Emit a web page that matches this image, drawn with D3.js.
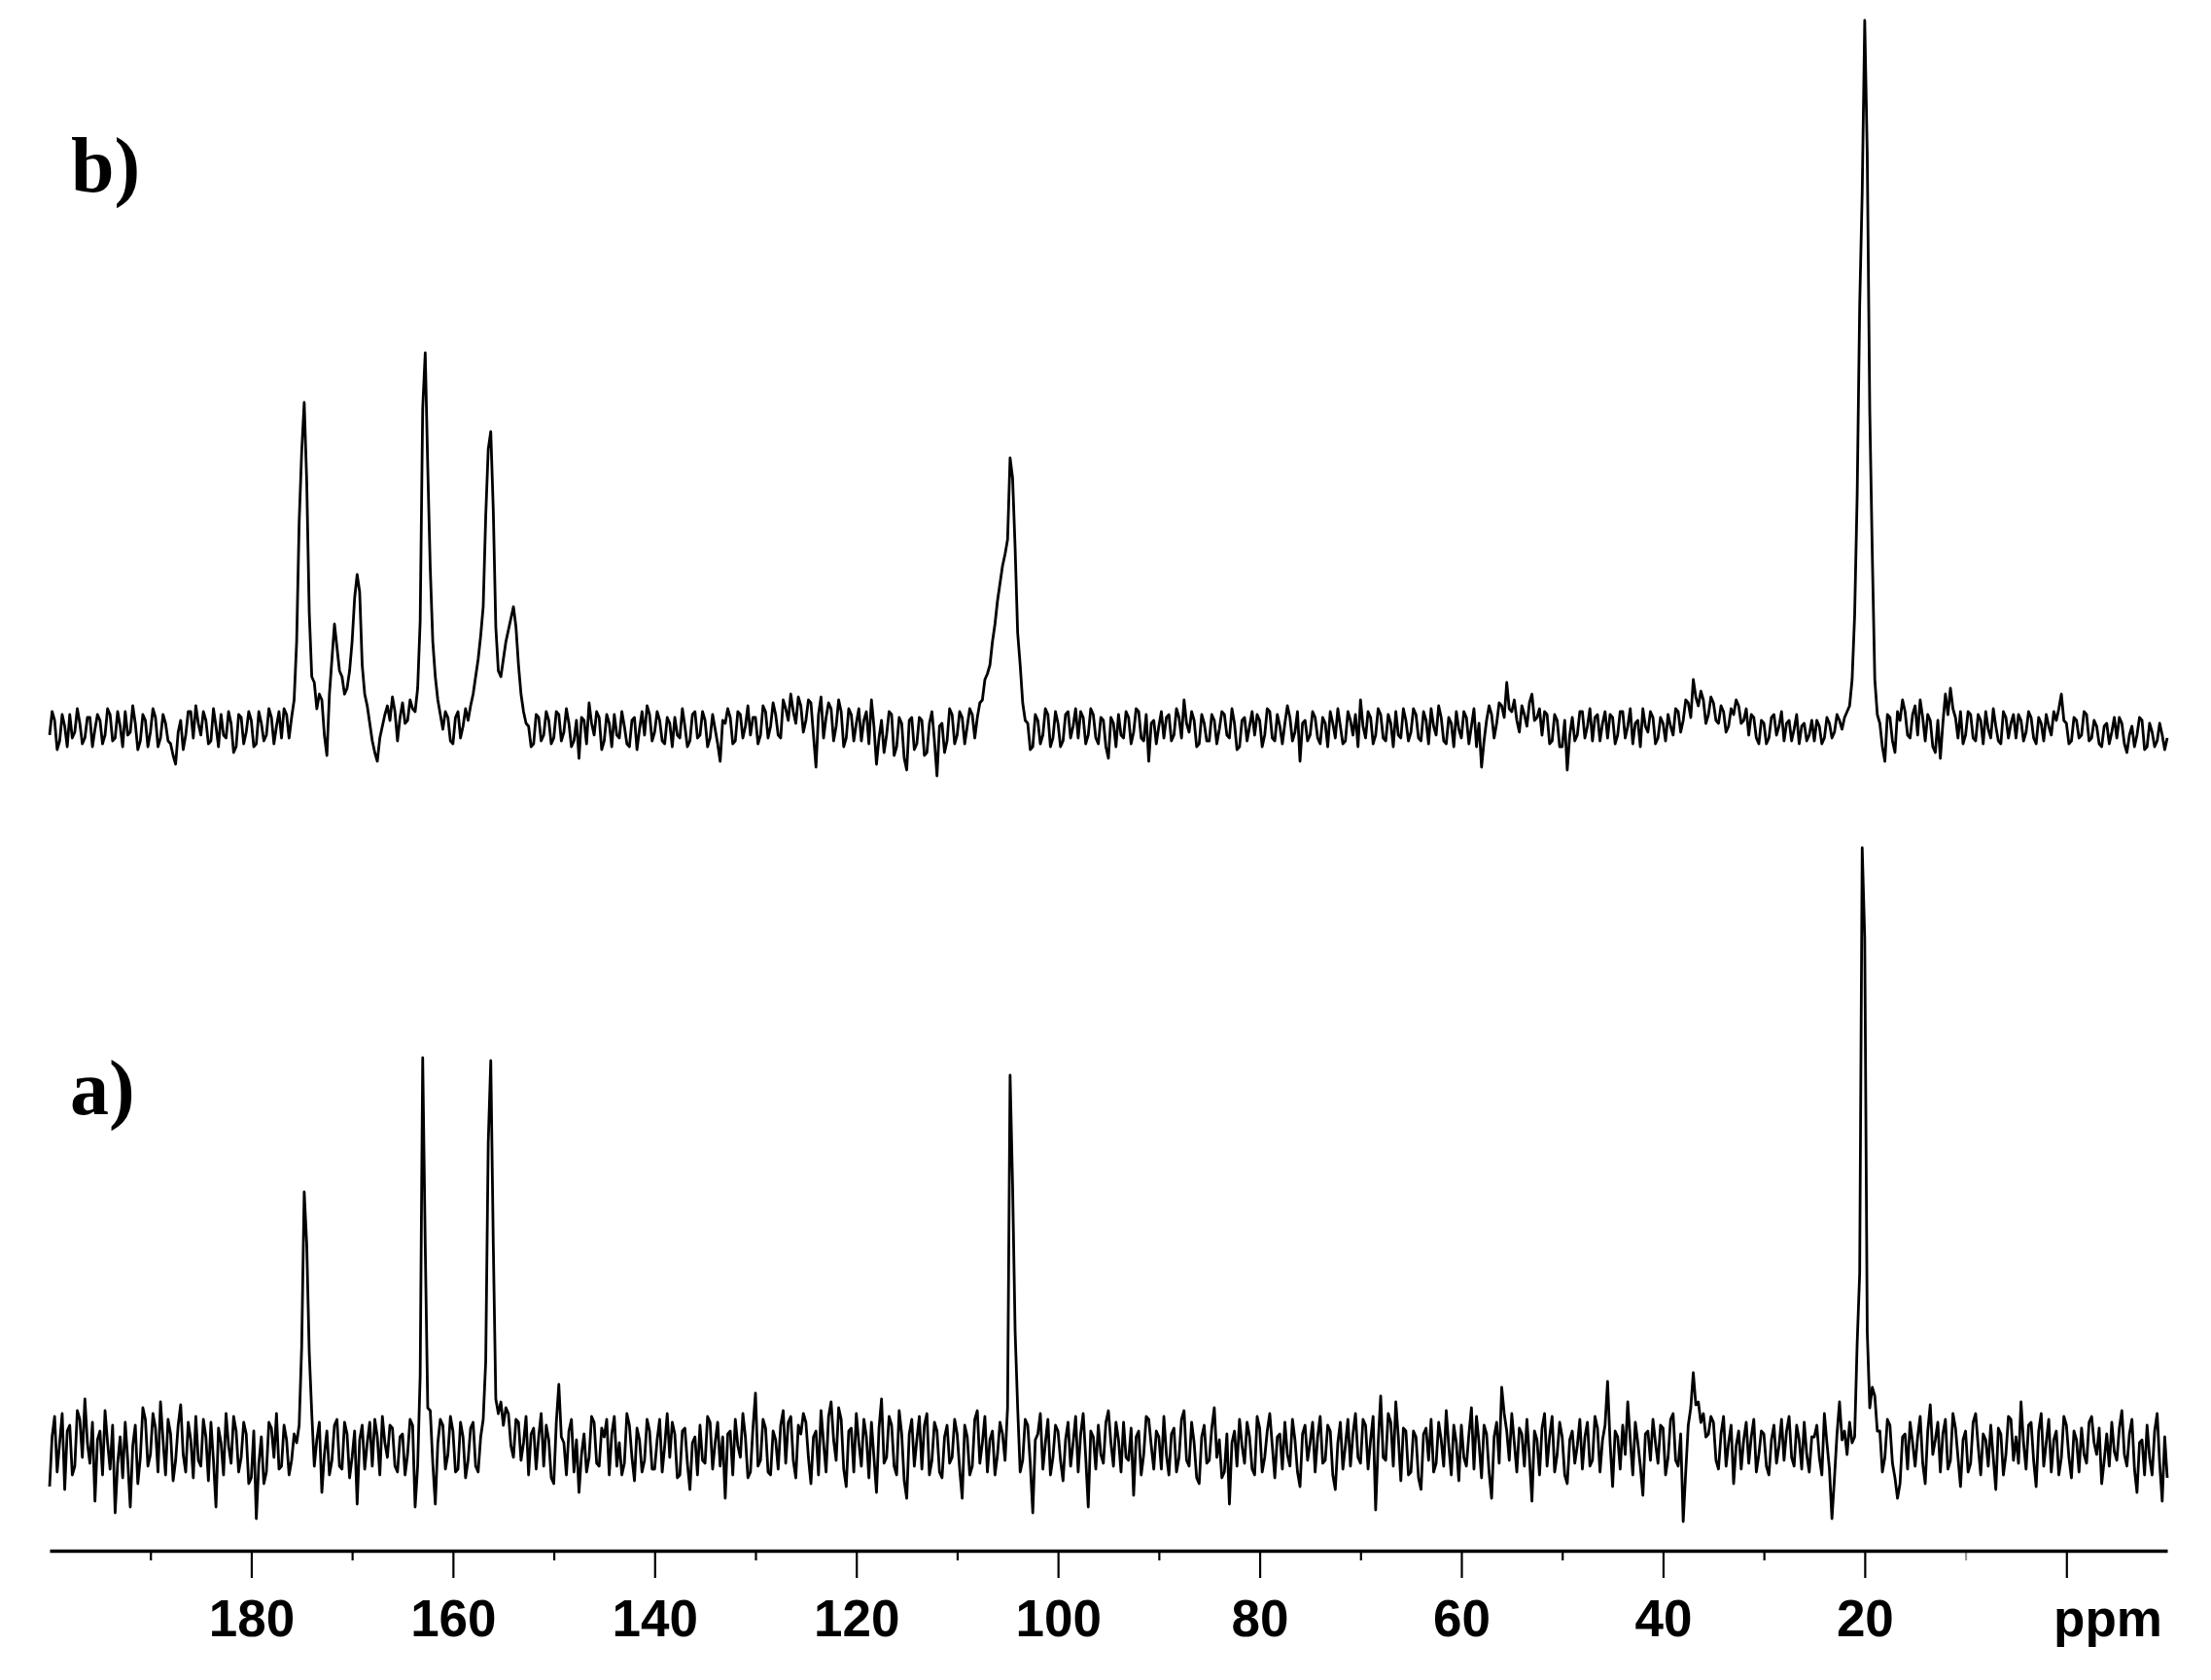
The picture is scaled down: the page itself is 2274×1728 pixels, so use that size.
<!DOCTYPE html>
<html><head><meta charset="utf-8">
<script src="https://cdn.jsdelivr.net/npm/d3@7"></script>
<style>body{margin:0;background:#fff}</style>
</head><body>
<svg id="c" width="2274" height="1728"></svg>
<script>
// chemical shift grid (ppm): 200 -> -10, one sample every 0.25 ppm
const ppmStart = 200, ppmStep = 0.25;
const majorTicks = [180, 160, 140, 120, 100, 80, 60, 40, 20, 0];
const minorTicks = [190, 170, 150, 130, 110, 90, 70, 50, 30, 10];
const tickLabels = ["180", "160", "140", "120", "100", "80", "60", "40", "20", ""];
const axisUnit = "ppm";
const panelLabels = ["b)", "a)"];

// spectrum b) intensities (a.u.), rows of 20 samples = 5 ppm each
const spectrumB = [
  -2,6, 3,-7, -4,5, 1,-6, 5,-3, -1,7, 2,-5, -3,4, 4,-6, 0,5,            // 200
  3,-5, -2,7, 5,-4, -3,6, 1,-6, 6,-2, -1,8, 2,-7, -4,5, 3,-6,           // 195
  -1,7, 4,-6, -3,5, 2,-4, -5,-9, -12,-1, 3,-7, -2,6, 6,-3, 8,2,         // 190
  -2,6, 3,-5, -4,7, 1,-6, 5,-2, -3,6, 2,-8, -6,5, 4,-5, -1,6,           // 185
  3,-6, -5,6, 2,-4, -2,7, 4,-5, 1,6, -3,7, 5,-3, 4,10, 30,71,           // 180
  95,112, 85,40, 18,16, 7,12, 10,-2, -9,12, 24,36, 28,20, 18,12, 14,20, // 175
  30,45, 53,47, 22,12, 8,2, -4,-8, -11,-3, 1,5, 8,3, 11,6, -4,4,        // 170
  9,2, 3,10, 7,6, 14,37, 110,129, 90,55, 30,18, 10,5, 0,6, 4,-4,        // 165
  -5,4, 6,-3, 1,7, 3,8, 12,18, 24,32, 42,73, 96,102, 75,35, 20,18,      // 160
  24,30, 34,38, 42,35, 22,12, 6,2, 1,-6, -5,5, 4,-4, -2,6, 3,-5,        // 155
  -3,6, 5,-4, -1,7, 2,-6, -4,3, -10,4, 3,-5, 9,2, -2,6, 4,-7,           // 150
  -4,5, 2,-6, 5,-2, -3,6, 1,-5, -6,3, 4,-7, 0,6, -2,8, 5,-4,            // 145
  -1,6, 3,-4, -5,4, 2,-6, 4,-2, -3,7, 1,-6, -4,5, 6,-3, -2,6,           // 140
  3,-6, -3,5, 0,-5, -11,3, 2,7, 4,-5, -4,6, 5,-3, 1,8, -2,4,            // 135
  4,-5, -2,8, 6,-3, 1,9, 5,-2, -3,10, 7,3, 12,6, 2,11, 8,-1,            // 130
  3,10, 9,-2, -13,5, 11,-3, 4,9, 7,-4, 1,10, 6,-6, -3,7, 5,-4,          // 125
  2,7, -4,3, 6,-5, 10,1, -12,-3, 3,-8, -2,6, 5,-9, -6,4, 2,-10,         // 120
  -14,3, 4,-7, -5,4, 3,-9, -8,2, 6,-4, -16,1, 2,-8, -4,7, 5,-5,         // 115
  -2,6, 4,-5, 1,7, 5,-3, 4,9, 10,17, 19,22, 30,36, 44,50, 56,60,        // 110
  65,93, 86,62, 33,22, 9,3, 2,-7, -6,5, 3,-5, -2,7, 5,-6, -3,6,         // 105
  2,-6, -4,5, 6,-3, 1,7, -3,6, 4,-5, -2,7, 5,-3, -5,4, 3,-6,            // 100
  -10,4, 2,-6, 5,-2, -3,6, 4,-5, -1,7, 6,-3, -4,5, -11,2, 3,-5,         // 95
  1,6, -3,4, 5,-4, -2,7, 4,-3, 10,2, -1,6, 3,-6, -5,5, 2,-4,            // 90
  -4,5, 3,-5, 0,6, 5,-2, -3,7, 2,-7, -6,3, 4,-4, 1,6, -2,5,             // 85
  3,-6, -2,7, 6,-3, -4,5, 1,-5, 2,8, 4,-4, -1,6, -11,2, 3,-4,           // 80
  -2,6, 4,-3, -5,4, 2,-6, 6,2, -3,7, 1,-5, -4,6, 3,-2, 5,-6,            // 75
  10,1, -3,6, 4,-5, -2,7, 5,-3, -4,5, 2,-6, 6,-2, -3,7, 3,-4,           // 70
  -1,7, 5,-3, -4,6, 3,-5, 7,1, -2,8, 4,-4, -5,4, 2,-6, 6,0,             // 65
  -3,6, 4,-5, 1,7, -6,2, -13,-4, 3,8, 5,-3, 2,9, 8,4, 16,7,             // 60
  6,10, 3,-1, 8,5, 1,9, 12,3, 4,7, -2,6, 5,-5, -4,5, 3,-6,              // 55
  -6,3, -14,-2, 4,-4, -2,6, 6,-3, 1,7, -4,4, 5,-4, 2,6, -3,5,           // 50
  4,-5, -2,6, 6,-3, 1,7, -5,2, 3,-6, 7,1, -1,6, 4,-5, -3,4,             // 45
  2,-4, 5,1, -2,7, 6,-1, 3,10, 9,4, 17,11, 8,13, 10,2, 5,11,            // 40
  9,3, 2,8, 6,-1, 1,7, 5,10, 8,2, 3,7, -2,5, 4,-3, -5,3,                // 35
  2,-5, -3,4, 5,-2, 1,6, -4,2, 3,-4, 0,5, -5,1, 2,-4, -2,3,             // 30
  -4,3, 1,-5, -3,4, 2,-3, -1,5, 3,0, 4,6, 8,17, 39,80, 145,184,         // 25
  243,197, 109,60, 17,5, 2,-6, -11,5, 4,-4, -8,6, 3,10, 6,-2, -3,5,     // 20
  8,-2, 10,4, -4,5, 3,-6, -8,3, -10,2, 12,5, 14,7, 4,-3, 6,-5,          // 15
  -2,6, 5,-3, -4,5, 3,-5, 6,0, -3,7, 1,-4, -5,6, 4,-3, 2,5,             // 10
  -3,5, 3,-4, -1,6, 4,-3, -5,4, 2,-4, 5,1, -2,6, 3,7, 12,3,             // 5
  2,-5, -4,4, 3,-3, -2,6, 5,-4, -3,3, 1,-5, -6,1, 2,-5, -1,4,           // 0
  -3,4, 2,-5, -8,-2, 1,-6, -2,4, 3,-7, -6,2, -1,-6, -4,2, -2,-7,        // -5
  -3                                                                     // -10
];

// spectrum a) intensities (a.u.), same grid
const spectrumA = [
  -13,4, 11,-8, 2,12, -14,6, 8,-9, -6,13, 10,-3, 17,2, -5,9, -18,3,        // 200
  6,-9, 13,2, -7,8, -22,-5, 4,-10, 9,-4, -20,1, 8,-12, -3,14, 10,-6,       // 195
  -2,12, 7,-8, 16,3, -9,10, 5,-11, -4,8, 15,-2, -8,9, 3,-10, 11,-4,        // 190
  -6,10, 4,-11, 9,-4, -20,7, 2,-9, 12,1, -5,11, 6,-8, -3,9, 5,-12,         // 185
  -10,6, -24,-5, 4,-12, -8,9, 7,-3, 12,-7, -6,8, 3,-9, -4,5, 2,8,          // 180
  35,88, 70,33, 12,-6, 3,9, -15,-2, 6,-9, -4,8, 10,-6, -7,9, 5,-10,        // 175
  -3,6, -19,3, 8,-7, 2,9, -6,10, 4,-9, 11,2, -3,8, 7,-6, -8,4,             // 170
  5,-9, -2,10, 8,-20, -6,25, 134,70, 14,13, -5,-19, 2,10, 8,-7, -2,11,     // 165
  6,-8, -7,9, 4,-10, -4,7, 9,-6, -8,4, 10,30, 105,133, 70,17, 12,16,       // 160
  8,14, 12,1, -3,10, 9,-4, 2,11, -9,5, 7,-7, 4,12, -6,8, 3,-10,            // 155
  -12,9, 22,4, 2,-9, 6,10, -8,3, -15,-2, 5,-8, -3,11, 9,-5, -6,7,          // 150
  4,10, -9,5, 11,-6, 2,-9, -5,12, 8,-3, -11,7, 3,-8, -4,10, 6,-7,          // 145
  -7,3, 10,-8, 1,12, -3,9, 5,-10, -9,6, 7,-5, -14,2, 4,-9, 8,-4,           // 140
  -5,11, 9,-7, 2,9, -6,4, -17,5, 6,-9, 10,1, -3,12, 4,-10, -8,7,           // 135
  19,-6, -4,10, 7,-8, -9,6, 3,-7, 8,13, -5,9, 11,-4, -10,8, 5,12,          // 130
  9,-3, -12,4, 6,-9, 13,2, -8,11, 16,3, -4,14, 10,-7, -13,6, 7,-8,         // 125
  12,2, -6,10, 4,-10, 9,-3, -15,7, 17,-5, -3,11, 8,-6, -9,13, 5,-11,       // 120
  -17,5, 10,-6, 3,11, -7,8, 12,-9, -4,9, 6,-8, -10,4, 8,-5, -3,10,         // 115
  5,-7, -17,8, 4,-9, -6,10, 13,-5, 2,11, -8,3, 6,-9, -2,9, 5,-4,           // 110
  14,128, 90,40, 14,-8, -4,10, 8,-5, -22,3, 5,12, -7,2, 10,-9, -3,8,       // 105
  6,-4, -11,3, 9,-6, 2,11, -8,5, 12,-3, -20,6, 4,-7, 8,-2, -5,9,           // 100
  13,2, -6,9, 3,-8, 9,-3, -4,7, -16,4, 6,-9, -2,11, 10,1, -7,6,            // 95
  4,-7, 11,-2, -9,5, 7,-8, -3,10, 13,-4, -6,9, 2,-10, -12,4, 8,-5,         // 90
  -4,7, 14,-3, 3,-10, -8,5, -19,2, 6,-6, 10,1, -5,9, 4,-7, -9,11,          // 85
  7,-8, -3,6, 12,1, -10,4, 5,-7, 9,-2, -6,10, 3,-8, -13,5, 8,-4,           // 80
  2,9, -8,4, 11,-5, -4,8, 6,-9, -14,2, 9,-7, 1,10, -6,5, 12,-3,            // 75
  -5,10, 8,-7, 3,11, -21,2, 18,-3, -4,12, 9,-6, 16,4, -11,7, 6,-9,         // 70
  -8,6, 4,-10, -14,5, 7,-4, 10,-8, -5,9, 3,-6, 13,1, -9,8, 2,-11,          // 65
  8,-3, -6,5, 14,-7, 11,2, -10,8, 5,-8, -17,4, 9,-5, 21,12, 6,-4,          // 60
  12,2, -8,7, 5,-6, 10,-3, -18,6, 3,-9, 7,12, -6,4, 11,-8, -2,9,           // 55
  4,-9, -12,3, 6,-5, 1,10, -7,4, 9,-6, -4,11, 7,-8, 3,8, 23,2,             // 50
  -13,6, 4,-7, 8,-2, 16,3, -9,9, 2,-6, -16,5, 6,-4, 10,2, -5,8,            // 45
  7,-9, -3,10, 12,-4, -6,5, -25,-8, 8,14, 26,15, 16,9, 12,4, 5,11,         // 40
  9,-4, -7,5, 11,-6, 2,8, -12,1, 6,-7, 3,9, -5,4, 10,-8, -2,6,             // 35
  5,-6, -9,3, 8,-5, 1,10, -4,6, 11,-3, -6,8, 3,-7, 9,-2, -8,4,             // 30
  4,8, -3,-9, 12,2, -7,-24, -10,5, 16,3, 6,-2, 9,2, 4,36, 60,206,          // 25
  175,40, 14,21, 18,6, 6,-8, -3,10, 8,-5, -10,-17, -12,4, 5,-7, 9,2,       // 20
  -6,4, 11,-5, -12,6, 15,-2, 3,9, -8,5, 10,-7, -4,12, 7,-3, -13,3,         // 15
  6,-8, -5,9, 12,1, -9,5, 3,-6, 8,-3, -14,7, 5,-9, -2,11, 10,-4,           // 10
  4,-5, 16,2, -7,8, 9,-4, -13,6, 12,-6, 2,10, -8,3, 6,-9, -3,11,           // 5
  8,-3, -10,6, 3,-8, 7,-2, -5,9, 11,2, -2,7, -12,-4, 5,-6, 9,-1,           // 0
  -4,7, 13,-2, -6,5, 10,-7, -15,2, 3,-9, 8,-3, -9,6, 12,-5, -18,4,         // -5
  -10                                                                       // -10
];

const W = 2274, H = 1728;
const svg = d3.select("#c");
svg.append("rect").attr("width", W).attr("height", H).attr("fill", "#fff");

const x = d3.scaleLinear().domain([200, -10]).range([51, 2229]);
const yB = d3.scaleLinear().domain([0, 100]).range([750, 450]);
const yA = d3.scaleLinear().domain([0, 100]).range([1490, 1190]);

function drawTrace(values, y) {
  const pts = values.map((v, i) => [ppmStart - i * ppmStep, v]);
  const line = d3.line().x(d => x(d[0])).y(d => y(d[1]));
  svg.append("path")
    .attr("d", line(pts))
    .attr("fill", "none")
    .attr("stroke", "#000")
    .attr("stroke-width", 2.8)
    .attr("stroke-linejoin", "round");
}
drawTrace(spectrumB, yB);
drawTrace(spectrumA, yA);

// panel labels
const labelFont = "'Liberation Serif', 'Times New Roman', serif";
svg.append("text").attr("x", 73).attr("y", 197).text(panelLabels[0])
  .attr("font-family", labelFont).attr("font-weight", "bold")
  .attr("font-size", 80).attr("fill", "#000");
svg.append("text").attr("x", 72).attr("y", 1146).text(panelLabels[1])
  .attr("font-family", labelFont).attr("font-weight", "bold")
  .attr("font-size", 80).attr("fill", "#000");

// axis
const axisY = 1595;
const gMinor = svg.append("g").attr("transform", `translate(0,${axisY})`)
  .call(d3.axisBottom(x).tickValues(minorTicks).tickSize(10).tickSizeOuter(0).tickFormat(""));
gMinor.select(".domain").remove();
gMinor.selectAll(".tick line").attr("stroke", "#000").attr("stroke-width", 2.2);
gMinor.selectAll(".tick").filter(d => d === 10).select("line").attr("stroke", "#999");

const gMajor = svg.append("g").attr("transform", `translate(0,${axisY})`)
  .call(d3.axisBottom(x).tickValues(majorTicks).tickSize(28).tickSizeOuter(0).tickPadding(22)
    .tickFormat((d, i) => tickLabels[i]));
gMajor.select(".domain").attr("stroke", "#000").attr("stroke-width", 3.5);
gMajor.selectAll(".tick line").attr("stroke", "#000").attr("stroke-width", 2.2);
gMajor.selectAll(".tick text")
  .attr("font-family", "'Liberation Sans', Arial, sans-serif")
  .attr("font-weight", "bold").attr("font-size", 53).attr("fill", "#000");

svg.append("text").attr("x", 2168).attr("y", axisY + 50).attr("dy", "0.71em")
  .attr("text-anchor", "middle").text(axisUnit)
  .attr("font-family", "'Liberation Sans', Arial, sans-serif")
  .attr("font-weight", "bold").attr("font-size", 53).attr("fill", "#000");
</script>
</body></html>
